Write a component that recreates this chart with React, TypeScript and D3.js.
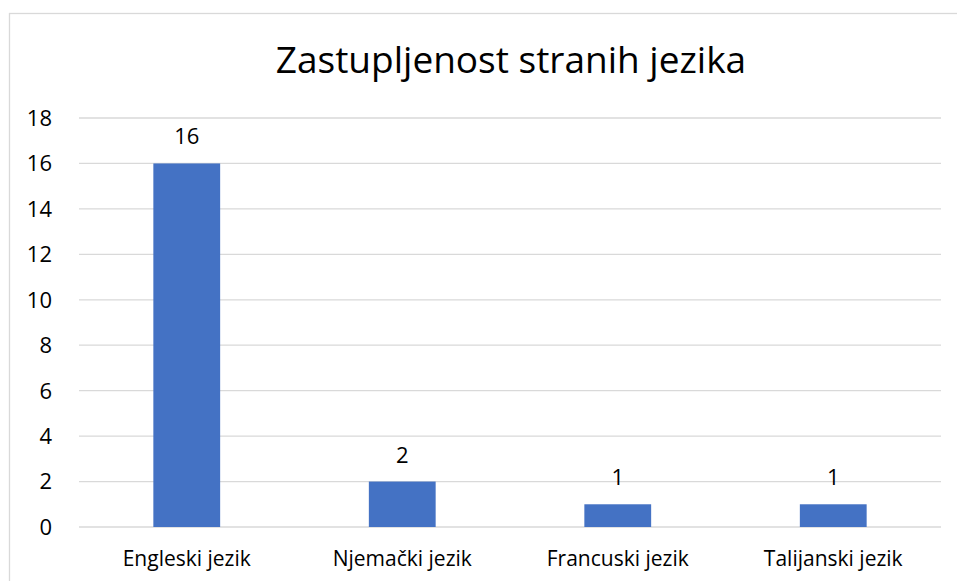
import { useEffect, useRef } from "react";
import * as d3 from "d3";

const categories = ["Engleski jezik", "Njemački jezik", "Francuski jezik", "Talijanski jezik"];
const values = [16, 2, 1, 1];
const yTicks = [0, 2, 4, 6, 8, 10, 12, 14, 16, 18];
const title = "Zastupljenost stranih jezika";

export default function App() {
  const svgRef = useRef<SVGSVGElement | null>(null);

  useEffect(() => {
    const width = 957;
    const height = 581;
    const font = "'Open Sans', 'Noto Sans', sans-serif";
    const margin = { top: 118, right: 16, bottom: 54, left: 79 };
    const innerW = width - margin.left - margin.right;
    const innerH = height - margin.top - margin.bottom;

    const svg = d3.select(svgRef.current).attr("width", width).attr("height", height);
    svg.selectAll("*").remove();

    // chart area border
    svg.append("rect")
      .attr("x", 9.5).attr("y", 13.5)
      .attr("width", 960).attr("height", 600)
      .attr("fill", "#fff").attr("stroke", "#d9d9d9").attr("stroke-width", 1.3);

    svg.append("text")
      .attr("x", 511).attr("y", 72.5)
      .attr("text-anchor", "middle")
      .style("font-family", font).style("font-size", "37px").attr("fill", "#000")
      .text(title);

    const g = svg.append("g").attr("transform", `translate(${margin.left},${margin.top})`);

    const x = d3.scaleBand().domain(categories).range([0, innerW]).paddingInner(0.69).paddingOuter(0.345);
    const y = d3.scaleLinear().domain([0, 18]).range([innerH, 0]);

    g.selectAll(".grid").data(yTicks).join("line")
      .attr("x1", 0).attr("x2", innerW)
      .attr("y1", d => y(d)).attr("y2", d => y(d))
      .attr("stroke", "#d9d9d9").attr("stroke-width", 1.3);

    g.selectAll(".ytick").data(yTicks).join("text")
      .attr("x", -27).attr("y", d => y(d)).attr("dy", "0.36em")
      .attr("text-anchor", "end")
      .style("font-family", font).style("font-size", "22px").attr("fill", "#000")
      .text(d => d);

    g.selectAll(".bar").data(values).join("rect")
      .attr("x", (_, i) => x(categories[i])!)
      .attr("width", x.bandwidth())
      .attr("y", d => y(d))
      .attr("height", d => innerH - y(d))
      .attr("fill", "#4472c4");

    g.selectAll(".lbl").data(values).join("text")
      .attr("x", (_, i) => x(categories[i])! + x.bandwidth() / 2)
      .attr("y", d => y(d) - 19)
      .attr("text-anchor", "middle")
      .style("font-family", font).style("font-size", "22px").attr("fill", "#000")
      .text(d => d);

    g.selectAll(".cat").data(categories).join("text")
      .attr("x", d => x(d)! + x.bandwidth() / 2)
      .attr("y", innerH + 39)
      .attr("text-anchor", "middle")
      .style("font-family", font).style("font-size", "21px").attr("fill", "#000")
      .text(d => d);
  }, []);

  return (
    <div style={{ position: "absolute", left: 0, top: 0 }}>
      <svg ref={svgRef}></svg>
    </div>
  );
}
